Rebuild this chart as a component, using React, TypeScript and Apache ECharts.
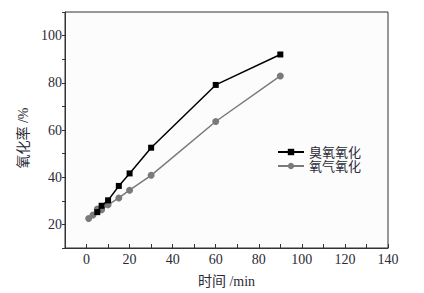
import React, { useEffect, useRef } from "react";
import * as echarts from "echarts";

const ozoneX = [5, 7, 10, 15, 20, 30, 60, 90];
const ozoneY = [25.2, 27.9, 30.2, 36.3, 41.6, 52.5, 79.1, 92.0];
const oxygenX = [1, 3, 5, 7, 10, 15, 20, 30, 60, 90];
const oxygenY = [22.5, 24.0, 26.5, 26.2, 28.3, 31.2, 34.5, 40.8, 63.6, 82.9];
const seriesNames = ["臭氧氧化", "氧气氧化"];
const xName = "时间 /min";
const yName = "氧化率 /%";

const FONT = "'Liberation Serif', 'Noto Sans CJK SC', serif";
const TXT = "#2b2b36";

export default function App() {
  const ref = useRef<HTMLDivElement>(null);
  useEffect(() => {
    if (!ref.current) return;
    const chart = echarts.init(ref.current, undefined, { renderer: "svg" });
    chart.setOption({
      animation: false,
      backgroundColor: "#ffffff",
      textStyle: { fontFamily: FONT },
      grid: {
        left: 65,
        right: 36,
        top: 12,
        bottom: 41,
        show: true,
        borderColor: "#333",
        borderWidth: 1,
        backgroundColor: "#fcfcfc",
      },
      legend: {
        orient: "vertical",
        left: 272,
        top: 140,
        itemWidth: 26,
        itemHeight: 8,
        itemGap: 0,
        textStyle: { fontFamily: FONT, fontSize: 13, color: TXT, lineHeight: 14, padding: [0, 0, 0, 0] },
        data: seriesNames,
      },
      xAxis: {
        type: "value",
        min: -10,
        max: 140,
        interval: 10,
        name: xName,
        nameLocation: "middle",
        nameGap: 26,
        nameTextStyle: { fontFamily: FONT, fontSize: 14, color: TXT },
        axisLine: { show: true, onZero: false, lineStyle: { color: "#333", width: 1 } },
        axisTick: { show: true, inside: true, length: 4, lineStyle: { color: "#333" } },
        axisLabel: {
          fontFamily: FONT,
          fontSize: 14,
          color: TXT,
          margin: 4,
          formatter: (v: number) => (v >= 0 && v % 20 === 0 ? String(v) : ""),
        },
        splitLine: { show: false },
      },
      yAxis: {
        type: "value",
        min: 10,
        max: 110,
        interval: 10,
        name: yName,
        nameLocation: "middle",
        nameGap: 28,
        nameTextStyle: { fontFamily: FONT, fontSize: 14, color: TXT, padding: [0, 16, 0, 0] },
        axisLine: { show: true, onZero: false, lineStyle: { color: "#333", width: 1 } },
        axisTick: { show: true, inside: false, length: 3, lineStyle: { color: "#333" } },
        axisLabel: {
          fontFamily: FONT,
          fontSize: 14,
          color: TXT,
          margin: 3,
          formatter: (v: number) => (v % 20 === 0 && v >= 20 && v <= 100 ? String(v) : ""),
        },
        splitLine: { show: false },
      },
      series: [
        {
          name: seriesNames[0],
          type: "line",
          data: ozoneX.map((x, i) => [x, ozoneY[i]]),
          symbol: "rect",
          symbolSize: 6,
          itemStyle: { color: "#000" },
          lineStyle: { color: "#000", width: 1.5 },
          z: 3,
        },
        {
          name: seriesNames[1],
          type: "line",
          data: oxygenX.map((x, i) => [x, oxygenY[i]]),
          symbol: "circle",
          symbolSize: 7,
          itemStyle: { color: "#7a7a7a" },
          lineStyle: { color: "#7a7a7a", width: 1.5 },
          z: 2,
        },
      ],
    });
    return () => chart.dispose();
  }, []);
  return <div ref={ref} style={{ width: 424, height: 293, marginLeft: -8, marginTop: -8 }} />;
}
